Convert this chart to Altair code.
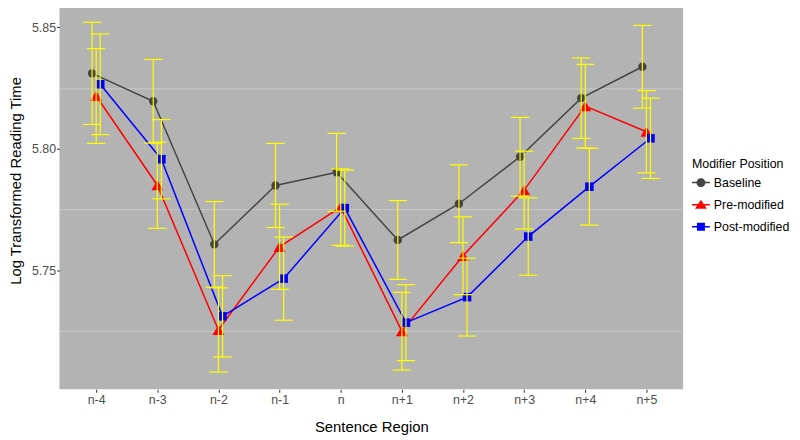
import json
import math
import altair as alt
import pandas as pd

regions = ["n-4", "n-3", "n-2", "n-1", "n", "n+1", "n+2", "n+3", "n+4", "n+5"]
series_names = ["Baseline", "Pre-modified", "Post-modified"]

baseline_mean = [5.8310, 5.8195, 5.7607, 5.7849, 5.7903, 5.7625, 5.7774, 5.7967, 5.8208, 5.8337]
baseline_err = [0.0210, 0.0172, 0.0176, 0.0173, 0.0160, 0.0162, 0.0160, 0.0162, 0.0165, 0.0170]
pre_mean = [5.8217, 5.7850, 5.7255, 5.7597, 5.7760, 5.7250, 5.7560, 5.7830, 5.8175, 5.8070]
pre_err = [0.0195, 0.0177, 0.0173, 0.0175, 0.0157, 0.0160, 0.0160, 0.0160, 0.0172, 0.0169]
post_mean = [5.8265, 5.7957, 5.7311, 5.7466, 5.7756, 5.7285, 5.7390, 5.7639, 5.7844, 5.8043]
post_err = [0.0207, 0.0163, 0.0167, 0.0171, 0.0156, 0.0156, 0.0160, 0.0159, 0.0158, 0.0165]

y_ticks = [5.725, 5.75, 5.775, 5.80, 5.825, 5.85]

colors = ["#444444", "#FF0000", "#0000FF"]
point_shapes = ["circle", "triangle-up", "square"]
point_sizes = [72, 144, 75]

# legend keys: a short line with the marker on it (filled shapes, same winding)
bar = "M-1,-0.085L1,-0.085L1,0.085L-1,0.085Z"
circ = "".join(("M" if k == 0 else "L") + f"{0.5*math.cos(2*math.pi*k/24):.3f},{0.5*math.sin(2*math.pi*k/24):.3f}"
               for k in range(24)) + "Z"
legend_paths = [
    bar + circ,
    bar + "M0,-0.55L0.67,0.45L-0.67,0.45Z",
    bar + "M-0.45,-0.45L0.45,-0.45L0.45,0.45L-0.45,0.45Z",
]

means = [baseline_mean, pre_mean, post_mean]
errs = [baseline_err, pre_err, post_err]
rows = []
for si, name in enumerate(series_names):
    for ri, reg in enumerate(regions):
        rows.append({"region": reg, "idx": ri, "series": name, "sidx": si,
                     "mean": means[si][ri], "err": errs[si][ri]})
df = pd.DataFrame(rows)

FONT = "Liberation Sans"

xs = alt.Scale(domain=[-0.6, 9.6], nice=False, zero=False)
ys = alt.Scale(domain=[5.7011, 5.859], nice=False, zero=False)

major_test = "round(datum.value*1000) % 50 == 0"
xaxis = alt.Axis(values=list(range(len(regions))),
                 labelExpr=json.dumps(regions) + "[datum.value]",
                 grid=False, domain=False, tickSize=3, tickColor="#333333",
                 labelFontSize=12.5, labelColor="#4D4D4D", labelFont=FONT,
                 labelBaseline="alphabetic", labelPadding=11, labelOverlap=False,
                 labelFlush=False,
                 titleFontSize=15, titleFontWeight="normal", titleFont=FONT,
                 titleColor="#000000", titleY=43, titleBaseline="alphabetic")
yaxis = alt.Axis(values=y_ticks,
                 labelExpr=f"{major_test} ? format(datum.value, '.2f') : ''",
                 grid=True, gridColor="#CACACA", gridWidth=1,
                 gridOpacity={"condition": {"test": f"!({major_test})", "value": 1}, "value": 0},
                 tickOpacity={"condition": {"test": major_test, "value": 1}, "value": 0},
                 tickSize=3, tickColor="#333333", domain=False, labelPadding=1,
                 labelFontSize=12.5, labelColor="#4D4D4D", labelFont=FONT,
                 titleFontSize=15, titleFontWeight="normal", titleFont=FONT,
                 titleColor="#000000", titleX=-39, titleY=177, titleBaseline="alphabetic")

XT = "Sentence Region"
YT = "Log Transformed Reading Time"

base = (alt.Chart(df)
        .transform_calculate(xd="datum.idx + (datum.sidx - 1) * 0.0667",
                             lo="datum.mean - datum.err",
                             hi="datum.mean + datum.err")
        .transform_calculate(xl="datum.xd - 0.15", xr="datum.xd + 0.15"))

X = alt.X("xd:Q", scale=xs, axis=xaxis, title=XT)
Y = alt.Y("mean:Q", scale=ys, axis=yaxis, title=YT)
cscale = alt.Scale(domain=series_names, range=colors)

leg = alt.Legend(title="Modifier Position", orient="none", legendX=639, legendY=154,
                 symbolSize=324, symbolStrokeWidth=0,
                 rowPadding=6.3, titlePadding=3.7,
                 labelFontSize=12.5, titleFontSize=12.5, labelFont=FONT, titleFont=FONT,
                 labelColor="#000000", titleColor="#000000", titleFontWeight="normal")

lines = base.mark_line(strokeWidth=1.5).encode(
    x=X, y=Y,
    color=alt.Color("series:N", scale=cscale, legend=leg),
)

points = []
for si in range(len(series_names)):
    points.append(
        base.transform_filter(f"datum.sidx == {si}")
        .mark_point(filled=True, shape=point_shapes[si], size=point_sizes[si],
                    color=colors[si], opacity=1)
        .encode(x=X, y=Y)
    )

legend_layer = base.transform_filter("false").mark_point(filled=True, opacity=1).encode(
    x=X, y=Y,
    color=alt.Color("series:N", scale=cscale, legend=leg),
    shape=alt.Shape("series:N", scale=alt.Scale(domain=series_names, range=legend_paths), legend=leg),
)

ybar = "#FFFF00"
vbars = base.mark_rule(color=ybar, strokeWidth=1.2).encode(
    x=X, y=alt.Y("lo:Q", scale=ys, axis=yaxis, title=YT), y2="hi:Q")
caps_lo = base.mark_rule(color=ybar, strokeWidth=1.2).encode(
    x=alt.X("xl:Q", scale=xs, axis=xaxis, title=XT), x2="xr:Q",
    y=alt.Y("lo:Q", scale=ys, axis=yaxis, title=YT))
caps_hi = base.mark_rule(color=ybar, strokeWidth=1.2).encode(
    x=alt.X("xl:Q", scale=xs, axis=xaxis, title=XT), x2="xr:Q",
    y=alt.Y("hi:Q", scale=ys, axis=yaxis, title=YT))

chart = (alt.layer(lines, *points, vbars, caps_lo, caps_hi, legend_layer)
         .properties(width=630, height=388,
                     autosize=alt.AutoSizeParams(type="none"),
                     padding={"left": 52, "top": -5, "right": 110, "bottom": 48})
         .configure(font=FONT, view=alt.ViewConfig(fill="#B3B3B3", strokeWidth=0)))

chart.save("out.html", embed_options={"renderer": "svg", "actions": False})
